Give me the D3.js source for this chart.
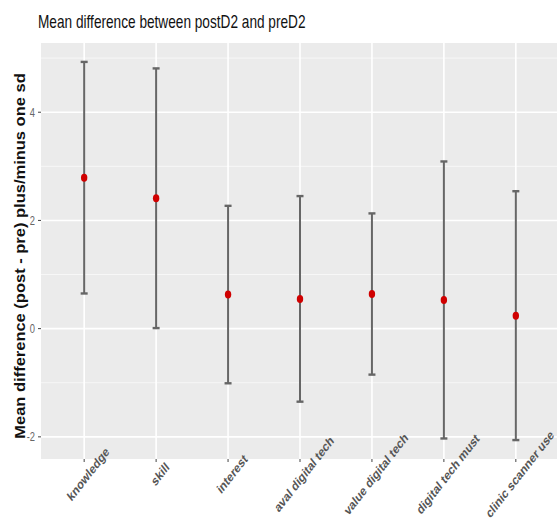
<!DOCTYPE html>
<html><head><meta charset="utf-8">
<script src="https://cdn.jsdelivr.net/npm/d3@7"></script>
<style>body{margin:0;background:#fff;}svg{display:block;font-family:"Liberation Sans",Arial,sans-serif;}</style>
</head><body>
<script>
const categories = ["knowledge","skill","interest","aval digital tech","value digital tech","digital tech must","clinic scanner use"];
const means = [2.79, 2.41, 0.63, 0.55, 0.64, 0.53, 0.24];
const sds   = [2.14, 2.40, 1.64, 1.90, 1.49, 2.56, 2.30];
const yTicks = [-2, 0, 2, 4];
const yMinor = [-1, 1, 3, 5];
const titleText = "Mean difference between postD2 and preD2";
const yTitle = "Mean difference (post - pre) plus/minus one sd";

const W = 557, H = 522;
const P = {left: 41, right: 559, top: 43, bottom: 459};
const SX = 0.78; // horizontal squeeze of text as in the reference image
const ca = SX * Math.SQRT1_2, cb = Math.SQRT1_2; // rotate(-45) then squeeze

const svg = d3.select("body").append("svg").attr("width", W).attr("height", H);

const data = categories.map((c, i) => ({cat: c, mean: means[i], lo: means[i] - sds[i], hi: means[i] + sds[i]}));
const lo = d3.min(data, d => d.lo), hi = d3.max(data, d => d.hi);
const pad = (hi - lo) * 0.05;

const x = d3.scalePoint().domain(categories).range([P.left, P.right]).padding(0.6);
const y = d3.scaleLinear().domain([lo - pad, hi + pad]).range([P.bottom, P.top]);

// panel
svg.append("rect").attr("x", P.left).attr("y", P.top)
  .attr("width", P.right - P.left).attr("height", P.bottom - P.top).attr("fill", "#EBEBEB");

const grid = svg.append("g");
grid.selectAll(".ymin").data(yMinor).join("line")
  .attr("x1", P.left).attr("x2", P.right)
  .attr("y1", d => y(d)).attr("y2", d => y(d))
  .attr("stroke", "#F7F7F7").attr("stroke-width", 1);
grid.selectAll(".ymaj").data(yTicks).join("line")
  .attr("x1", P.left).attr("x2", P.right)
  .attr("y1", d => y(d)).attr("y2", d => y(d))
  .attr("stroke", "#FFFFFF").attr("stroke-width", 1.6);
grid.selectAll(".xmaj").data(categories).join("line")
  .attr("x1", d => x(d)).attr("x2", d => x(d))
  .attr("y1", P.top).attr("y2", P.bottom)
  .attr("stroke", "#FFFFFF").attr("stroke-width", 1.6);

// error bars
const eb = svg.append("g").attr("stroke", "#666666");
eb.selectAll(".v").data(data).join("line")
  .attr("x1", d => x(d.cat)).attr("x2", d => x(d.cat))
  .attr("y1", d => y(d.hi)).attr("y2", d => y(d.lo))
  .attr("stroke-width", 2);
eb.selectAll(".ct").data(data).join("line")
  .attr("x1", d => x(d.cat) - 3.5).attr("x2", d => x(d.cat) + 3.5)
  .attr("y1", d => y(d.hi)).attr("y2", d => y(d.hi))
  .attr("stroke-width", 2.4);
eb.selectAll(".cb").data(data).join("line")
  .attr("x1", d => x(d.cat) - 3.5).attr("x2", d => x(d.cat) + 3.5)
  .attr("y1", d => y(d.lo)).attr("y2", d => y(d.lo))
  .attr("stroke-width", 2.4);

// points
svg.append("g").selectAll("ellipse").data(data).join("ellipse")
  .attr("cx", d => x(d.cat)).attr("cy", d => y(d.mean))
  .attr("rx", 3.2).attr("ry", 4).attr("fill", "#D00000");

// y axis ticks & labels
const ya = svg.append("g");
ya.selectAll("line").data(yTicks).join("line")
  .attr("x1", P.left - 3).attr("x2", P.left)
  .attr("y1", d => y(d)).attr("y2", d => y(d))
  .attr("stroke", "#444").attr("stroke-width", 1);
ya.selectAll("text").data(yTicks).join("text")
  .attr("transform", d => `translate(${P.left - 6},${y(d)}) scale(${SX},1)`)
  .attr("text-anchor", "end").attr("dy", "0.36em")
  .attr("font-size", 12).attr("fill", "#666")
  .text(d => d);

// x axis ticks & labels
const xa = svg.append("g");
xa.selectAll("line").data(categories).join("line")
  .attr("x1", d => x(d)).attr("x2", d => x(d))
  .attr("y1", P.bottom).attr("y2", P.bottom + 3)
  .attr("stroke", "#444").attr("stroke-width", 1);
xa.selectAll("text").data(categories).join("text")
  .attr("transform", d => `matrix(${ca},${-cb},${ca},${cb},${x(d) + 4},${P.bottom + 15})`)
  .attr("text-anchor", "middle").attr("dy", "0.35em")
  .attr("font-size", 13.5).attr("font-weight", "bold").attr("fill", "#555")
  .text(d => d);

// y title
svg.append("text")
  .attr("transform", `translate(25,256) scale(0.85,1) rotate(-90)`)
  .attr("text-anchor", "middle")
  .attr("font-size", 16.5).attr("font-weight", "bold").attr("fill", "#111")
  .text(yTitle);

// title
svg.append("text")
  .attr("transform", `translate(38,28) scale(${SX},1)`)
  .attr("font-size", 17.5).attr("fill", "#111")
  .text(titleText);
</script>
</body></html>
